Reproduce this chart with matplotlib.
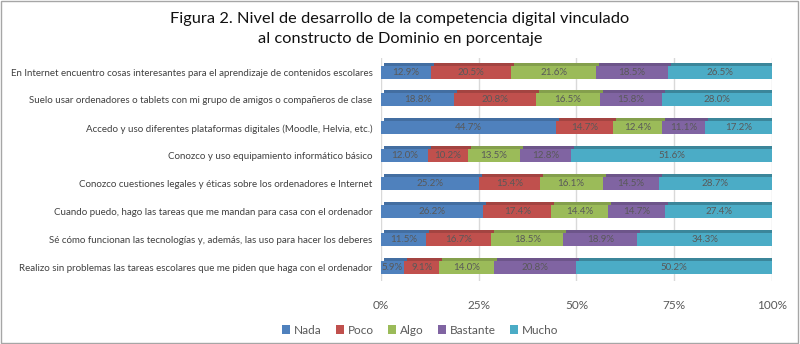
import matplotlib.pyplot as plt
import matplotlib.transforms as mtransforms
import numpy as np
from matplotlib.colors import to_rgb
from matplotlib.patches import Rectangle

# Datos
categorias = [
    "En Internet encuentro cosas interesantes para el aprendizaje de contenidos escolares",
    "Suelo usar ordenadores o tablets con mi grupo de amigos o compañeros de clase",
    "Accedo y uso diferentes plataformas digitales (Moodle, Helvia, etc.)",
    "Conozco y uso equipamiento informático básico",
    "Conozco cuestiones legales y éticas sobre los ordenadores e Internet",
    "Cuando puedo, hago las tareas que me mandan para casa con el ordenador",
    "Sé cómo funcionan las tecnologías y, además, las uso para hacer los deberes",
    "Realizo sin problemas las tareas escolares que me piden que haga con el ordenador",
]
nada = [12.9, 18.8, 44.7, 12.0, 25.2, 26.2, 11.5, 5.9]
poco = [20.5, 20.8, 14.7, 10.2, 15.4, 17.4, 16.7, 9.1]
algo = [21.6, 16.5, 12.4, 13.5, 16.1, 14.4, 18.5, 14.0]
bastante = [18.5, 15.8, 11.1, 12.8, 14.5, 14.7, 18.9, 20.8]
mucho = [26.5, 28.0, 17.2, 51.6, 28.7, 27.4, 34.3, 50.2]

series = [
    ("Nada", nada, "#4F81BD"),
    ("Poco", poco, "#C0504D"),
    ("Algo", algo, "#9BBB59"),
    ("Bastante", bastante, "#8064A2"),
    ("Mucho", mucho, "#4BACC6"),
]

BAR_H = 0.47


def darker(color, f=0.8):
    return tuple(c * f for c in to_rgb(color))


plt.rcParams["font.family"] = ["Lato", "DejaVu Sans"]

fig = plt.figure(figsize=(8, 3.44), dpi=100)
ax = fig.add_axes([0.476, 0.183, 0.489, 0.648])

# copia desplazada (3 px arriba-derecha) para simular la profundidad 3D
shift = ax.transData + mtransforms.ScaledTranslation(0.03, 0.03, fig.dpi_scale_trans)

y = np.arange(len(categorias))
left = np.zeros(len(categorias))
for i, (name, vals, color) in enumerate(series):
    vals = np.array(vals)
    back = ax.barh(y, vals, left=left, height=BAR_H, zorder=2.5 + i * 0.01,
                   color=darker(color, 0.78 if i == len(series) - 1 else 0.85))
    for p in back:
        p.set_transform(shift)
    ax.barh(y, vals, left=left, height=BAR_H, color=color, label=name, zorder=3)
    for yi, l, v in zip(y, left, vals):
        ax.text(l + v / 2, yi, f"{v:.1f}%", ha="center", va="center",
                fontsize=7, color="#595959", zorder=4)
    left += vals

ax.set_xlim(0, 100)
ax.set_ylim(len(categorias) - 0.5, -0.5)
ax.set_xticks([0, 25, 50, 75, 100])
ax.set_xticklabels(["0%", "25%", "50%", "75%", "100%"])
ax.set_yticks(y)
ax.set_yticklabels(categorias)
ax.tick_params(axis="x", length=0, labelsize=8.5, colors="#595959", pad=14)
ax.tick_params(axis="y", length=0, labelsize=7, colors="#404040", pad=6)
ax.grid(axis="x", color="#D9D9D9", linewidth=1, zorder=0)
for s in ax.spines.values():
    s.set_visible(False)

fig.text(0.5, 0.945, "Figura 2. Nivel de desarrollo de la competencia digital vinculado",
         ha="center", va="center", fontsize=11.8, color="#111111")
fig.text(0.5, 0.888, "al constructo de Dominio en porcentaje",
         ha="center", va="center", fontsize=11.8, color="#111111")

fig.legend(loc="center", bbox_to_anchor=(0.525, 0.04), ncol=5, frameon=False,
           fontsize=8.5, handlelength=0.7, handleheight=0.7, handletextpad=0.3,
           columnspacing=1.2, labelcolor="#595959")

fig.patches.append(Rectangle((0.001, 0.002), 0.997, 0.995, transform=fig.transFigure,
                             fill=False, edgecolor="#A6A6A6", linewidth=1))

fig.savefig("out.png", dpi=100)
